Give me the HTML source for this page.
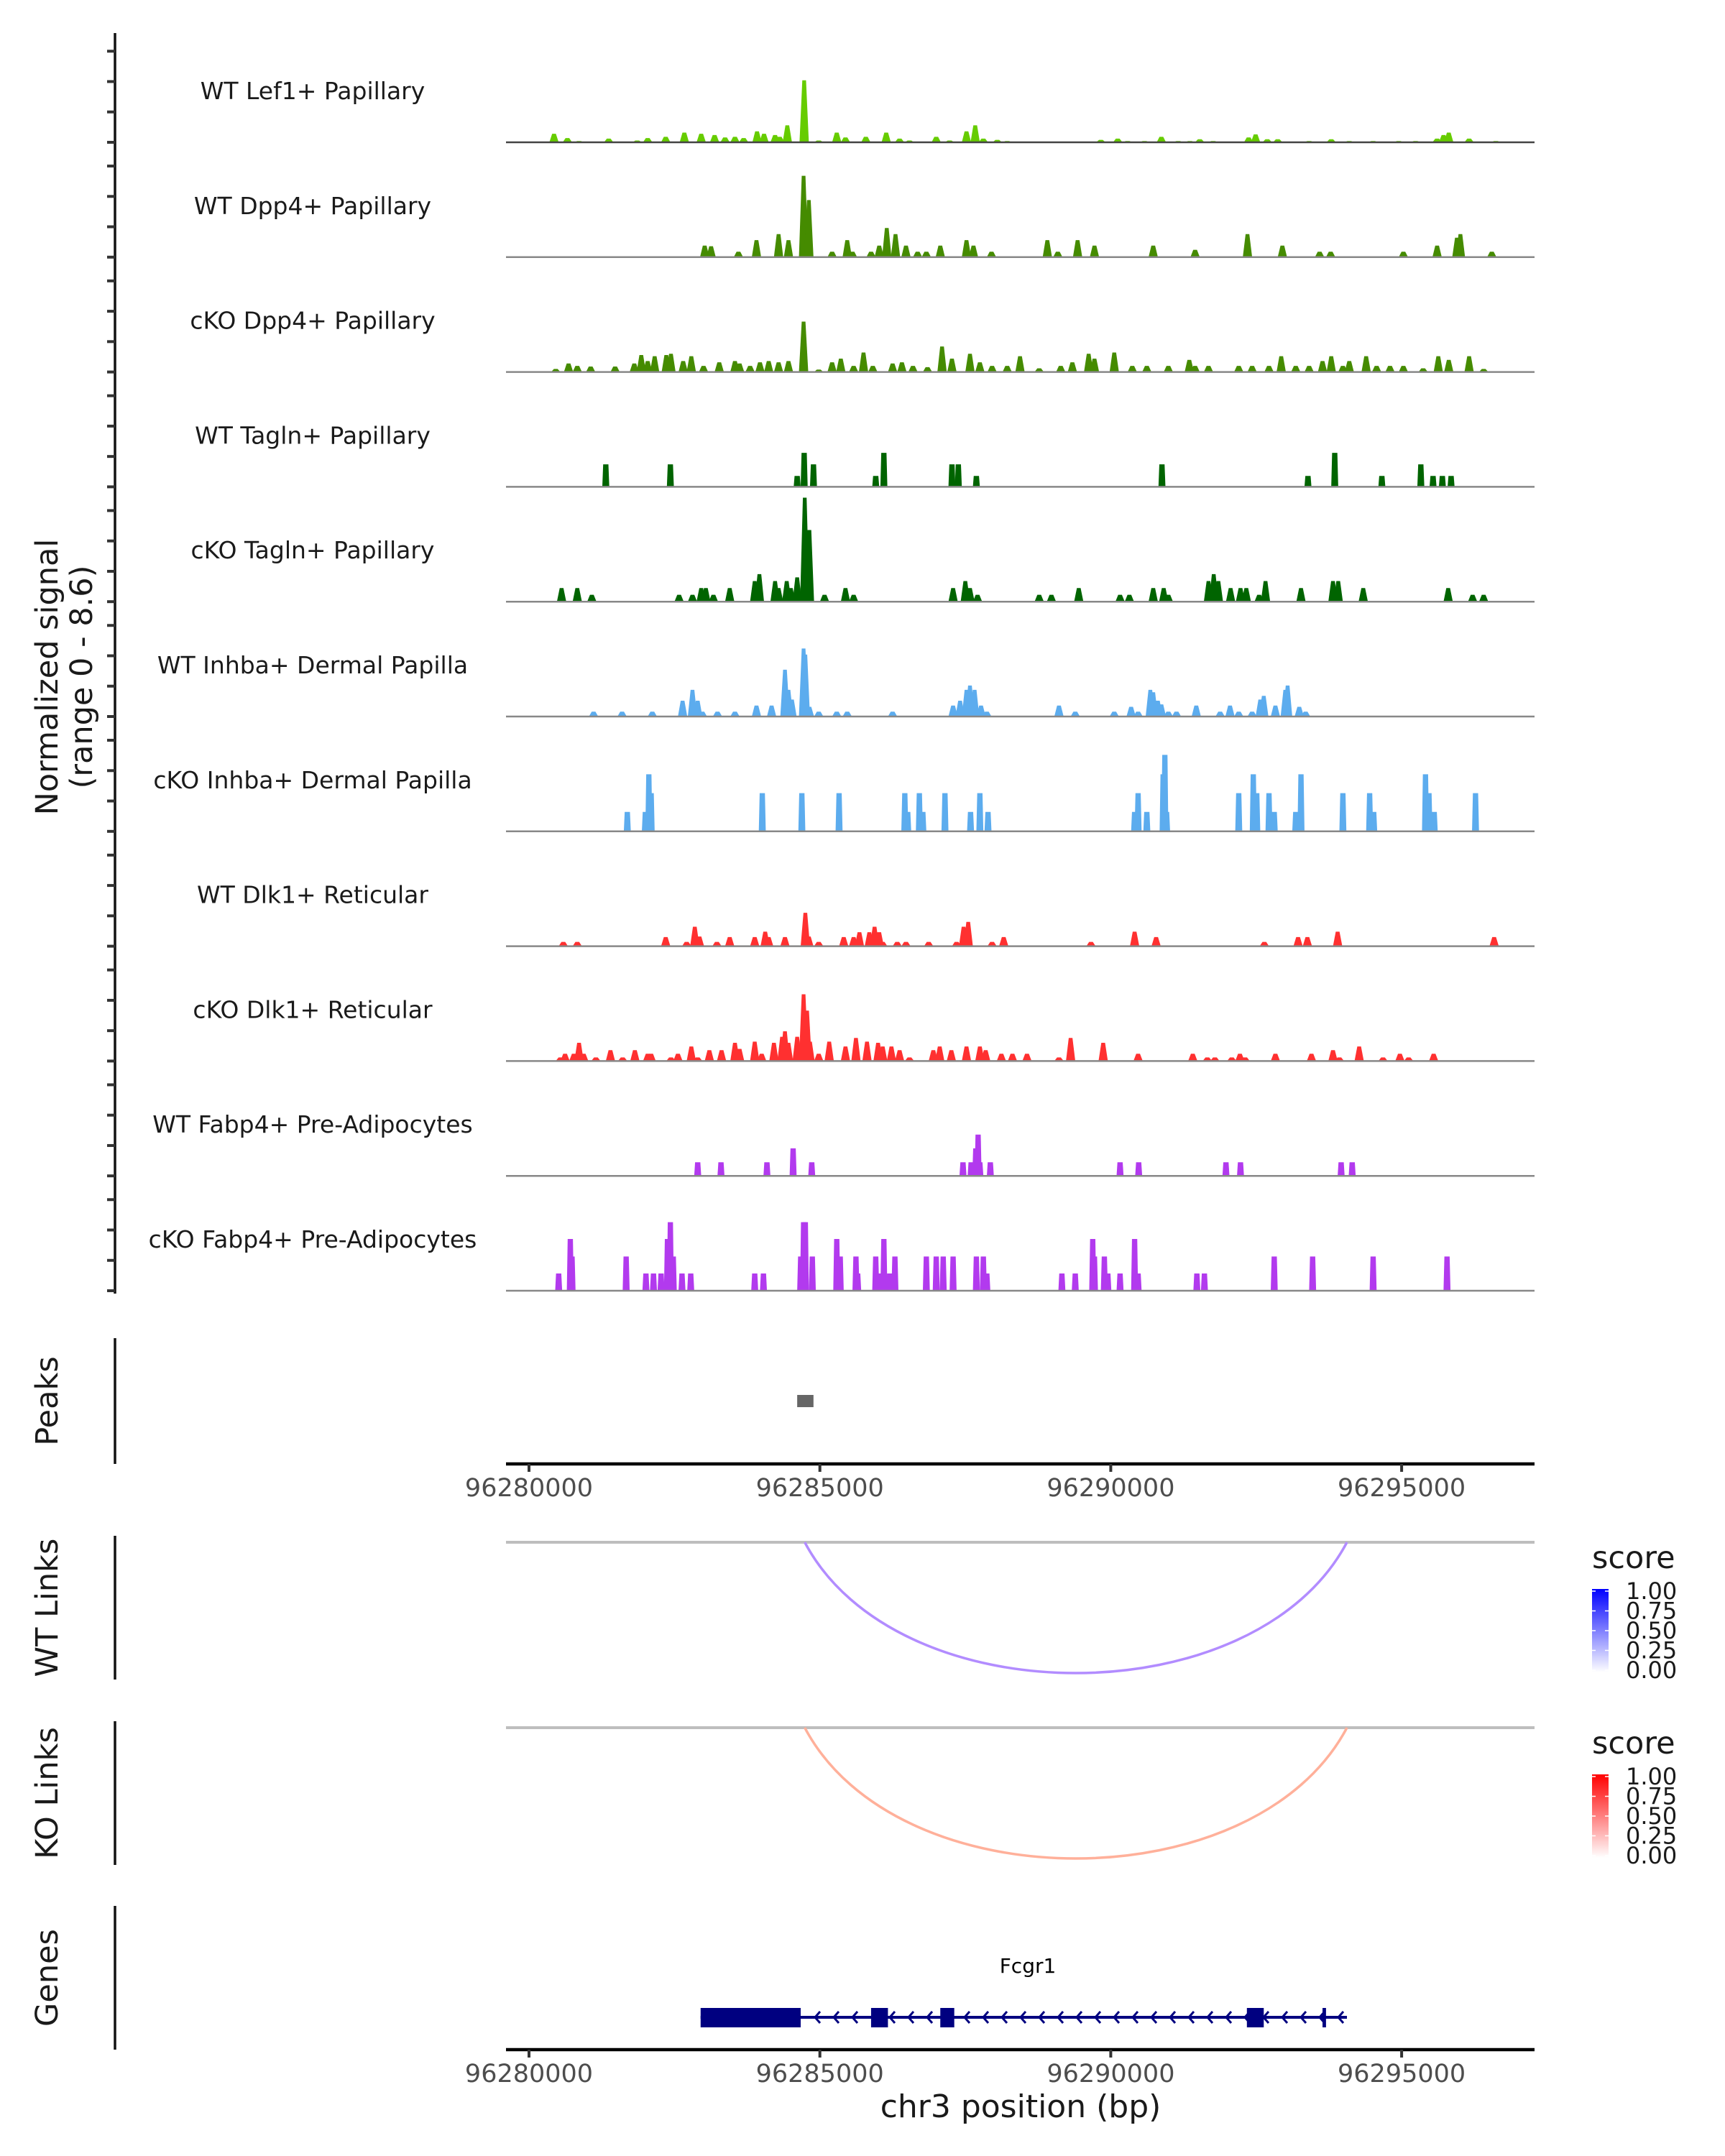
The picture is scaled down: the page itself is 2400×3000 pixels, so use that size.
<!DOCTYPE html>
<html><head><meta charset="utf-8"><style>
html,body{margin:0;padding:0;background:#fff;}
svg{display:block;font-family:"DejaVu Sans","Liberation Sans",sans-serif;}
</style></head><body>
<svg id="chart" width="2400" height="3000" viewBox="0 0 2400 3000" xmlns="http://www.w3.org/2000/svg">
<rect width="2400" height="3000" fill="#fff"/>
<g id="tracks"></g>
<text transform="translate(80,942) rotate(-90)" text-anchor="middle" font-size="43" fill="#1a1a1a">Normalized signal</text>
<text transform="translate(128,942) rotate(-90)" text-anchor="middle" font-size="43" fill="#1a1a1a">(range 0 - 8.6)</text>
<g id="lower"></g>
</svg>
<script>
const START = 96280000;
const TRACK_NAMES = ["WT Lef1+ Papillary","WT Dpp4+ Papillary","cKO Dpp4+ Papillary","WT Tagln+ Papillary","cKO Tagln+ Papillary","WT Inhba+ Dermal Papilla","cKO Inhba+ Dermal Papilla","WT Dlk1+ Reticular","cKO Dlk1+ Reticular","WT Fabp4+ Pre-Adipocytes","cKO Fabp4+ Pre-Adipocytes"];
const TRACK_COLORS = ["#66cc00","#458b00","#458b00","#006400","#006400","#5cacee","#5cacee","#ff3030","#ff3030","#b23aee","#b23aee"];
// positions in kb from START, values in normalized signal
const lef1Pos = [0.43,0.66,0.86,1.37,1.86,2.04,2.35,2.67,2.96,3.19,3.37,3.54,3.69,3.92,4.04,4.23,4.31,4.44,4.73,4.98,5.29,5.44,5.79,6.14,6.37,6.54,7.0,7.23,7.52,7.67,7.81,8.05,8.22,9.83,10.12,10.29,10.58,10.87,11.16,11.36,11.53,11.76,12.37,12.49,12.69,12.87,13.41,13.79,14.1,14.51,14.95,15.24,15.61,15.72,15.81,16.16,16.62];
const lef1Val = [0.7,0.35,0.1,0.3,0.15,0.35,0.45,0.8,0.7,0.6,0.4,0.45,0.35,0.9,0.7,0.6,0.45,1.4,5.1,0.15,0.8,0.4,0.45,0.8,0.3,0.15,0.45,0.15,0.9,1.4,0.3,0.2,0.1,0.2,0.3,0.1,0.1,0.45,0.1,0.1,0.25,0.1,0.4,0.65,0.25,0.25,0.1,0.25,0.1,0.1,0.1,0.1,0.3,0.6,0.8,0.3,0.1];
const wtDpp4Pos = [3.02,3.13,3.6,3.91,4.29,4.46,4.72,4.81,5.21,5.47,5.56,5.88,6.02,6.15,6.3,6.48,6.68,6.83,7.07,7.52,7.64,7.95,8.91,9.09,9.43,9.72,10.73,11.45,12.35,12.95,13.59,13.78,15.03,15.61,15.95,16.01,16.55];
const wtDpp4Val = [0.95,0.9,0.45,1.4,1.9,1.4,6.7,4.7,0.45,1.4,0.45,0.45,0.95,2.4,1.9,0.95,0.45,0.45,0.95,1.4,0.95,0.45,1.4,0.45,1.4,0.95,0.95,0.6,1.9,0.95,0.45,0.45,0.45,0.95,1.6,1.9,0.45];
const koDpp4Pos = [0.46,0.68,0.83,1.06,1.48,1.81,1.93,2.04,2.16,2.36,2.44,2.65,2.79,3.0,3.27,3.54,3.62,3.8,3.97,4.12,4.29,4.46,4.72,4.98,5.21,5.36,5.58,5.75,5.91,6.25,6.41,6.6,6.85,7.1,7.27,7.58,7.75,7.96,8.22,8.44,8.77,9.14,9.34,9.62,9.72,10.06,10.37,10.62,10.99,11.35,11.45,11.68,12.2,12.43,12.72,12.93,13.18,13.41,13.64,13.79,13.99,14.1,14.39,14.57,14.8,15.03,15.37,15.63,15.81,16.16,16.41];
const koDpp4Val = [0.25,0.7,0.5,0.45,0.45,0.7,1.4,0.9,1.3,1.4,1.5,0.9,1.3,0.5,0.8,0.9,0.7,0.5,0.8,0.9,0.8,0.9,4.15,0.2,0.8,1.1,0.5,1.6,0.5,0.7,0.8,0.5,0.4,2.1,1.1,1.5,0.8,0.5,0.5,1.3,0.3,0.5,0.8,1.5,1.1,1.6,0.5,0.5,0.5,1.0,0.5,0.5,0.5,0.5,0.5,1.3,0.5,0.5,0.9,1.3,0.5,0.9,1.3,0.5,0.5,0.5,0.3,1.3,1.0,1.3,0.25];
const wtTaglnPos = [1.32,2.43,4.61,4.73,4.89,5.96,6.1,7.27,7.38,7.69,10.88,13.39,13.85,14.66,15.33,15.54,15.7,15.85];
const wtTaglnVal = [1.85,1.85,0.9,2.8,1.85,0.9,2.8,1.85,1.85,0.9,1.85,0.9,2.8,0.9,1.85,0.9,0.9,0.9];
const koTaglnPos = [0.56,0.83,1.08,2.58,2.81,2.96,3.04,3.17,3.45,3.88,3.96,4.23,4.29,4.43,4.5,4.61,4.74,4.82,5.08,5.44,5.58,7.29,7.5,7.58,7.71,8.77,8.98,9.45,10.16,10.32,10.73,10.91,10.99,11.68,11.77,11.85,12.06,12.23,12.33,12.55,12.66,13.27,13.82,13.91,14.34,15.8,16.22,16.41];
const koTaglnVal = [1.12,1.12,0.57,0.57,0.57,1.12,1.12,0.57,1.12,1.7,2.27,1.7,1.12,1.7,1.12,2.0,8.56,5.9,0.57,1.12,0.57,1.12,1.7,1.12,0.57,0.57,0.57,1.12,0.57,0.57,1.12,1.12,0.57,1.7,2.27,1.7,1.12,1.12,1.12,0.57,1.7,1.12,1.7,1.7,1.12,1.12,0.57,0.57];
const wtInhbaPos = [1.11,1.6,2.12,2.64,2.81,2.9,2.98,3.24,3.54,3.91,4.17,4.4,4.46,4.52,4.72,4.75,4.82,4.98,5.29,5.47,6.25,7.29,7.41,7.52,7.58,7.66,7.77,7.87,9.11,9.39,10.06,10.35,10.47,10.68,10.73,10.81,10.87,10.99,11.13,11.47,11.88,12.05,12.2,12.43,12.57,12.63,12.83,13.0,13.04,13.24,13.35];
const wtInhbaVal = [0.4,0.4,0.4,1.3,2.2,1.3,0.4,0.4,0.4,0.9,0.9,3.85,2.2,1.4,5.6,5.1,0.8,0.4,0.4,0.4,0.4,0.9,1.3,2.2,2.55,2.2,0.9,0.4,0.9,0.4,0.4,0.8,0.4,2.2,2.0,1.3,1.0,0.4,0.4,0.9,0.4,0.9,0.4,0.4,1.4,1.7,0.9,2.2,2.55,0.8,0.4];
const koInhbaPos = [1.69,2.0,2.06,2.1,4.01,4.69,5.33,6.46,6.51,6.71,6.77,7.15,7.59,7.75,7.89,10.41,10.47,10.62,10.9,10.93,10.96,12.2,12.45,12.51,12.72,12.81,13.18,13.27,13.99,14.45,14.52,15.41,15.47,15.56,16.27];
const koInhbaVal = [1.6,1.6,4.7,3.15,3.15,3.15,3.15,3.15,1.6,3.15,1.6,3.15,1.6,3.15,1.6,1.6,3.15,1.6,4.7,6.3,1.6,3.15,4.7,3.15,3.15,1.6,1.6,4.7,3.15,3.15,1.6,4.7,3.15,1.6,3.15];
const wtDlk1Pos = [0.59,0.83,2.35,2.71,2.85,2.93,3.23,3.45,3.88,4.06,4.12,4.4,4.75,4.81,4.98,5.41,5.58,5.68,5.85,5.94,6.02,6.08,6.33,6.48,6.87,7.35,7.47,7.55,7.96,8.16,9.66,10.41,10.78,12.64,13.22,13.38,13.9,16.59];
const wtDlk1Val = [0.35,0.35,0.75,0.35,1.6,0.8,0.35,0.75,0.75,1.2,0.75,0.75,2.75,0.8,0.35,0.75,0.75,1.15,1.15,1.6,1.15,0.35,0.35,0.35,0.35,0.35,1.6,2.0,0.35,0.75,0.35,1.2,0.75,0.35,0.75,0.75,1.2,0.75];
const koDlk1Pos = [0.54,0.62,0.77,0.86,0.94,1.15,1.4,1.61,1.82,2.04,2.1,2.44,2.56,2.79,2.9,3.1,3.31,3.54,3.62,3.88,4.0,4.21,4.35,4.4,4.46,4.61,4.72,4.78,4.83,4.98,5.16,5.44,5.62,5.81,6.0,6.08,6.23,6.37,6.54,6.95,7.06,7.26,7.52,7.75,7.85,8.12,8.31,8.56,9.11,9.31,9.87,10.47,11.41,11.66,11.79,12.08,12.22,12.31,12.83,13.45,13.82,13.93,14.27,14.68,14.97,15.12,15.55];
const koDlk1Val = [0.3,0.6,0.6,1.5,0.6,0.3,0.9,0.3,0.9,0.6,0.6,0.3,0.6,1.2,0.3,0.9,0.9,1.5,1.0,1.6,0.6,1.5,2.0,2.45,1.5,2.0,5.5,4.15,1.6,0.6,1.6,1.2,1.9,1.6,1.5,1.2,1.2,0.9,0.3,0.9,1.2,0.9,1.2,1.2,0.9,0.6,0.6,0.6,0.3,1.9,1.5,0.6,0.6,0.3,0.3,0.3,0.6,0.3,0.6,0.6,0.9,0.3,1.2,0.3,0.6,0.3,0.6];
const wtFabp4Pos = [2.9,3.3,4.09,4.54,4.86,7.46,7.6,7.68,7.72,7.75,7.93,10.16,10.48,11.98,12.23,13.96,14.15];
const wtFabp4Val = [1.12,1.12,1.12,2.27,1.12,1.12,1.12,2.27,3.4,1.12,1.12,1.12,1.12,1.12,1.12,1.12,1.12];
const koFabp4Pos = [0.51,0.71,0.74,1.67,2.01,2.14,2.27,2.38,2.43,2.48,2.63,2.78,3.88,4.03,4.67,4.72,4.75,4.87,5.29,5.35,5.62,5.65,5.96,6.02,6.1,6.2,6.29,6.83,7.0,7.12,7.29,7.69,7.81,7.87,9.16,9.39,9.69,9.72,9.89,9.95,10.16,10.41,10.47,11.48,11.61,12.81,13.47,14.51,15.78];
const koFabp4Val = [1.42,4.26,2.82,2.82,1.42,1.42,1.42,4.26,5.64,2.82,1.42,1.42,1.42,1.42,2.82,5.64,5.64,2.82,4.26,2.82,2.82,1.42,2.82,1.42,4.26,1.42,2.82,2.82,2.82,2.82,2.82,2.82,2.82,1.42,1.42,1.42,4.26,2.82,2.82,1.42,1.42,4.26,1.42,1.42,1.42,2.82,2.82,2.82,2.82];
const TRACK_POS = [lef1Pos,wtDpp4Pos,koDpp4Pos,wtTaglnPos,koTaglnPos,wtInhbaPos,koInhbaPos,wtDlk1Pos,koDlk1Pos,wtFabp4Pos,koFabp4Pos];
const TRACK_VAL = [lef1Val,wtDpp4Val,koDpp4Val,wtTaglnVal,koTaglnVal,wtInhbaVal,koInhbaVal,wtDlk1Val,koDlk1Val,wtFabp4Val,koFabp4Val];
const xTicks = [96280000,96285000,96290000,96295000];
const peakStarts = [4.61]; const peakEnds = [4.89];
const linkStarts = [4.74]; const linkEnds = [14.06]; const wtLinkScore = [0.45]; const koLinkScore = [0.4];
const exonStarts = [2.95,5.88,7.07,12.34,13.64]; const exonEnds = [4.67,6.17,7.31,12.63,13.7];
const geneStart = 2.95, geneEnd = 14.06;
const legendTicks = ["1.00","0.75","0.50","0.25","0.00"];

const NS = "http://www.w3.org/2000/svg";
const AX_L = 704, AX_R = 2135;
function xs(kb){ return 736 + kb * 80.94; }
function xbp(bp){ return xs((bp - START) / 1000); }
const BASE0 = 198, STEP = 159.8, PXU = 16.9;
function yv(i, v){ return BASE0 + STEP * i - v * PXU; }
function mk(tag, attrs, parent){ const e = document.createElementNS(NS, tag); for (const k in attrs) e.setAttribute(k, attrs[k]); parent.appendChild(e); return e; }

const tg = document.getElementById('tracks');
let ax = mk('line', {x1:160, y1:46, x2:160, y2:1800, stroke:'#111', 'stroke-width':3.5}, tg);


for (let i = 0; i < 11; i++) {
  const base = BASE0 + STEP * i;
  for (let k = 0; k < 4; k++) {
    const t = mk('line', {x1:149, x2:160, y1:base - k*2.5*PXU, y2:base - k*2.5*PXU, stroke:'#333', 'stroke-width':4}, tg);
    
    
  }
  const g = mk('g', {}, tg);
  
  
  const lab = mk('text', {x:435, y:base - 60, 'text-anchor':'middle', 'font-size':33, fill:'#1a1a1a'}, g);
  lab.textContent = TRACK_NAMES[i];
  
  
  const pos = TRACK_POS[i], val = TRACK_VAL[i];
  const stepTrack = (i === 3 || i === 6 || i === 9 || i === 10);
  const w = stepTrack ? 0.12 : 0.16;
  for (let j = 0; j < pos.length; j++) {
    const xc = xs(pos[j]), hw = w*80.94/2, tw = hw*(stepTrack ? 0.75 : 0.4);
    const yt = yv(i, val[j]);
    const p = mk('polygon', {points:`${xc-hw},${base} ${xc-tw},${yt} ${xc+tw},${yt} ${xc+hw},${base}`, fill:TRACK_COLORS[i]}, g);
    
    
  }
  const bl = mk('line', {x1:AX_L, x2:AX_R, y1:base, y2:base, stroke: i===0 ? '#444' : '#888', 'stroke-width':2.5}, g);
  
  
}

const lg = document.getElementById('lower');
function yAxisPanel(y1, y2, title, name){
  const l = mk('line', {x1:160, x2:160, y1:y1, y2:y2, stroke:'#111', 'stroke-width':3.5}, lg);
  
  
  const t = mk('text', {transform:`translate(80,${(y1+y2)/2}) rotate(-90)`, 'text-anchor':'middle', 'font-size':43, fill:'#1a1a1a'}, lg);
  t.textContent = title;
  
  
}
function xAxis(y, name){
  const l = mk('line', {x1:AX_L, x2:AX_R, y1:y, y2:y, stroke:'#000', 'stroke-width':4.5}, lg);
  
  
  xTicks.forEach(b => {
    const x = xbp(b);
    const t = mk('line', {x1:x, x2:x, y1:y, y2:y+11, stroke:'#333', 'stroke-width':4}, lg);
    
    
    const tx = mk('text', {x:x, y:y+45, 'text-anchor':'middle', 'font-size':35, fill:'#4d4d4d'}, lg);
    tx.textContent = String(b);
    
    
  });
}
yAxisPanel(1862, 2037, 'Peaks', 'peaks');
peakStarts.forEach((s, k) => {
  const r = mk('rect', {x:xs(s), y:1941, width:xs(peakEnds[k]) - xs(s), height:17, fill:'#666'}, lg);
  
  
});
xAxis(2037, 'peaks-x-axis');
function linkPanel(y0, title, name, scores, color, hi){
  yAxisPanel(y0 - 9, y0 + 191, title, name);
  const gl = mk('line', {x1:AX_L, x2:AX_R, y1:y0, y2:y0, stroke:'#bebebe', 'stroke-width':4}, lg);
  
  
  linkStarts.forEach((s, k) => {
    const x1 = xs(s), x2 = xs(linkEnds[k]), w = x2 - x1, D = 182/0.75;
    const p = mk('path', {d:`M${x1},${y0} C${x1+w*0.17},${y0+D} ${x2-w*0.17},${y0+D} ${x2},${y0}`, fill:'none', stroke:color, 'stroke-width':3.5}, lg);
    
    
  });
  const ly = y0 + 36;
  const st = mk('text', {x:2215, y:ly, 'font-size':43, fill:'#1a1a1a'}, lg);
  st.textContent = 'score';
  
  
  const gid = name + '-grad';
  const defs = mk('defs', {}, lg);
  const lgd = mk('linearGradient', {id:gid, x1:0, y1:1, x2:0, y2:0}, defs);
  mk('stop', {offset:0, 'stop-color':'#ffffff'}, lgd);
  mk('stop', {offset:1, 'stop-color':hi}, lgd);
  const bar = mk('rect', {x:2215, y:y0 + 65, width:23, height:116, fill:`url(#${gid})`}, lg);
  
  
  legendTicks.forEach((t, k) => {
    const yy = y0 + 68 + k * 27.5;
    mk('line', {x1:2215, x2:2220, y1:yy, y2:yy, stroke:'#fff', 'stroke-width':1.5}, lg);
    mk('line', {x1:2233, x2:2238, y1:yy, y2:yy, stroke:'#fff', 'stroke-width':1.5}, lg);
    const tx = mk('text', {x:2262, y:yy + 11, 'font-size':32, fill:'#1a1a1a'}, lg);
    tx.textContent = t;
    
    
  });
}
linkPanel(2146, 'WT Links', 'wt-links', wtLinkScore, '#b28cff', '#0000ff');
linkPanel(2404, 'KO Links', 'ko-links', koLinkScore, '#ffb09a', '#ff0000');
yAxisPanel(2652, 2852, 'Genes', 'genes');
const gy = 2807;
const gl = mk('line', {x1:xs(geneStart), x2:xs(geneEnd), y1:gy, y2:gy, stroke:'#000080', 'stroke-width':4}, lg);


for (let x = xs(exonEnds[0]) + 20; x < xs(geneEnd) - 8; x += 26) {
  const ch = mk('path', {d:`M${x+7},${gy-8} L${x},${gy} L${x+7},${gy+8}`, fill:'none', stroke:'#000080', 'stroke-width':3}, lg);
  
  
}
exonStarts.forEach((s, k) => {
  const r = mk('rect', {x:xs(s), y:2794, width:Math.max(4, xs(exonEnds[k]) - xs(s)), height:27, fill:'#000080'}, lg);
  
  
});
const gname = mk('text', {x:1430, y:2745, 'text-anchor':'middle', 'font-size':28, fill:'#000'}, lg);
gname.textContent = 'Fcgr1';


xAxis(2852, 'genes-x-axis');
const xt = mk('text', {x:1420, y:2946, 'text-anchor':'middle', 'font-size':44, fill:'#1a1a1a'}, lg);
xt.textContent = 'chr3 position (bp)';


</script>
</body></html>
